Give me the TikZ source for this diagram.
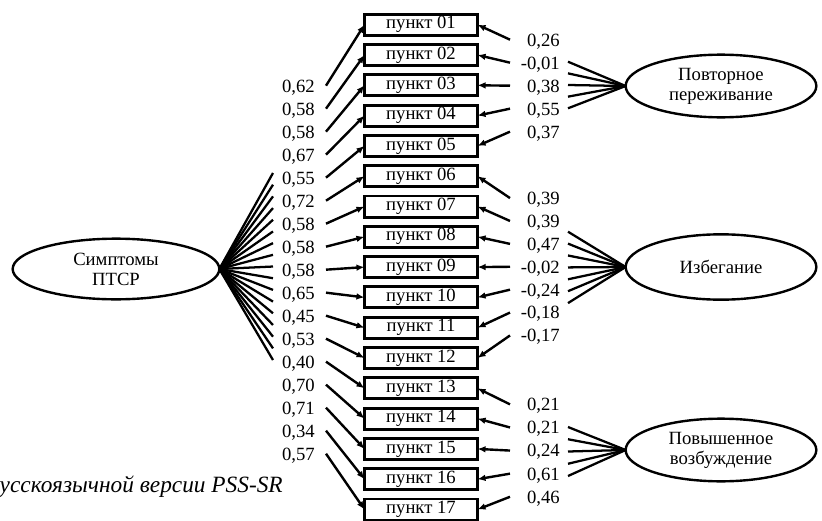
\documentclass[tikz,border=0pt]{standalone}
\usepackage{fontspec}
\setmainfont{Liberation Serif}
\usetikzlibrary{arrows.meta,shapes.geometric}

\begin{document}
\begin{tikzpicture}[x=0.75pt,y=-0.75pt,
  every node/.style={font=\fontsize{14}{15}\selectfont},
  itembox/.style={draw, line width=2.2pt, minimum width=84.8pt, minimum height=15.8pt,
    inner sep=0pt, outer sep=0pt},
  factor/.style={ellipse, draw, line width=1.8pt, align=center, inner sep=0pt, outer sep=0pt},
  loading/.style={inner sep=0pt, text height=9.5pt, text depth=0pt, anchor=east},
  larrow/.style={line width=1.8pt, -{Latex[length=6pt,width=5pt]}},
  fanline/.style={line width=1.7pt},
]
\useasboundingbox (0,0) rectangle (822,521);

% observed items
\foreach \i in {1,...,17}
  \node[itembox] (b\i) at (421, {24.7+30.3*(\i-1)}) {пункт \ifnum\i<10 0\fi\i};

% latent factors
\node[factor, minimum width=155pt, minimum height=45.5pt] (S) at (116,269) {Симптомы\\ПТСР};
\node[factor, minimum width=143pt, minimum height=47pt] (P) at (721,86) {Повторное\\переживание};
\node[factor, minimum width=143pt, minimum height=49pt] (A) at (721,267) {Избегание};
\node[factor, minimum width=143pt, minimum height=47pt] (H) at (721,450) {Повышенное\\возбуждение};

% general factor loadings
\foreach \i/\v in {1/{0,62},2/{0,58},3/{0,58},4/{0,67},5/{0,55},6/{0,72},7/{0,58},8/{0,58},
    9/{0,58},10/{0,65},11/{0,45},12/{0,53},13/{0,40},14/{0,70},15/{0,71},16/{0,34},17/{0,57}} {
  \node[loading] (l\i) at (315, {92+23*(\i-1)-6.33}) {\v};
  \coordinate (sf\i) at (273, {173+11.69*(\i-1)});
  \draw[fanline] (S.east) -- (sf\i);
  \draw[larrow] ([xshift=8.25pt]l\i.east) -- (b\i.west);
}

% specific factor loadings
\foreach \i/\y/\v in {1/46/{0,26},2/69/{-0,01},3/92/{0,38},4/115/{0,55},5/138/{0,37},
    6/204.4/{0,39},7/227.3/{0,39},8/250.2/{0,47},9/273.1/{-0,02},10/296/{-0,24},11/318.9/{-0,18},12/341.8/{-0,17},
    13/410.7/{0,21},14/433.8/{0,21},15/456.9/{0,24},16/480/{0,61},17/503.1/{0,46}} {
  \node[loading] (r\i) at (560, {\y-6.33}) {\v};
  \draw[larrow] ([xshift=-37.5pt]r\i.east) -- (b\i.east);
}

% fans from the specific factors
\foreach \k in {0,...,4} {
  \coordinate (pf\k) at (568, {61.7+11.65*\k});
  \draw[fanline] (P.west) -- (pf\k);
}
\foreach \k in {0,...,6} {
  \coordinate (af\k) at (568, {231.7+11.9*\k});
  \draw[fanline] (A.west) -- (af\k);
}
\foreach \k in {0,...,4} {
  \coordinate (hf\k) at (568, {427+12.25*\k});
  \draw[fanline] (H.west) -- (hf\k);
}

% caption fragment
\node[anchor=base east, inner sep=0pt, font=\fontsize{17.5}{20}\selectfont\itshape] (cap)
  at (283,492) {усскоязычной версии PSS-SR};
\end{tikzpicture}
\end{document}
